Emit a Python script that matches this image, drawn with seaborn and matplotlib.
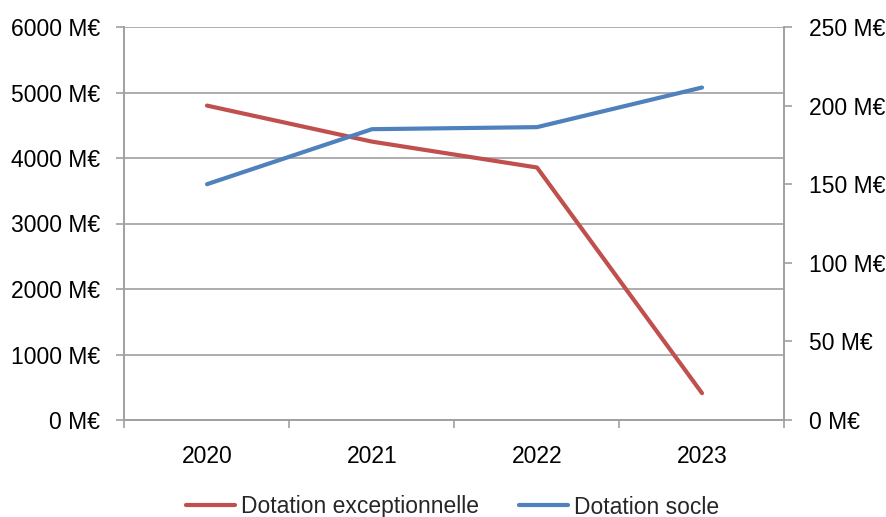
import matplotlib
matplotlib.use("Agg")
import matplotlib.pyplot as plt
import seaborn as sns
import pandas as pd
from matplotlib.ticker import FuncFormatter, MultipleLocator, FixedLocator

# Données (M€)
annees = ["2020", "2021", "2022", "2023"]
dotation_exceptionnelle = [4800, 4250, 3855, 410]
dotation_socle = [150, 185, 186.3, 211.5]

sns.set_theme(style="white")
plt.rcParams["font.family"] = ["Liberation Sans", "DejaVu Sans"]

ROUGE = "#C0504D"
BLEU = "#4F81BD"
GRIS = "#A0A0A0"
FS = 16.5
TICK = 5.8

df = pd.DataFrame({
    "annee": annees,
    "exc": dotation_exceptionnelle,
    "socle": dotation_socle,
})

fig = plt.figure(figsize=(8.87, 5.17), dpi=100)
ax = fig.add_axes([124.5 / 887, 97 / 517, (784.5 - 124.5) / 887, (420 - 27) / 517])
ax2 = ax.twinx()

sns.lineplot(data=df, x="annee", y="exc", ax=ax, color=ROUGE, linewidth=3.0,
             label="Dotation exceptionnelle", legend=False)
sns.lineplot(data=df, x="annee", y="socle", ax=ax2, color=BLEU, linewidth=3.0,
             label="Dotation socle", legend=False)

fmt = FuncFormatter(lambda v, p: f"{int(v)} M€")

ax.set_xlim(-0.5, 3.5)
ax.set_ylim(0, 6000)
ax.yaxis.set_major_locator(MultipleLocator(1000))
ax.yaxis.set_major_formatter(fmt)
ax2.set_ylim(0, 250)
ax2.yaxis.set_major_locator(MultipleLocator(50))
ax2.yaxis.set_major_formatter(fmt)

ax.set_xlabel("")
ax.set_ylabel("")
ax2.set_ylabel("")

ax.grid(axis="y", color=GRIS, linewidth=1.2)
ax.set_axisbelow(True)

# Category axis: labels centered, tick marks on boundaries
ax.xaxis.set_major_locator(FixedLocator(range(len(annees))))
ax.set_xticklabels(annees)
ax.xaxis.set_minor_locator(FixedLocator([i - 0.5 for i in range(len(annees) + 1)]))
ax.tick_params(axis="x", which="major", length=0, pad=18, labelsize=FS, colors="black")
ax.tick_params(axis="x", which="minor", length=TICK, width=1.2, color=GRIS, bottom=True)
ax.tick_params(axis="y", length=TICK, width=1.2, color=GRIS, left=True, labelsize=FS,
               pad=12, labelcolor="black")
ax2.tick_params(axis="y", length=TICK, width=1.2, color=GRIS, right=True, labelsize=FS,
                pad=11.5, labelcolor="black")

for a in (ax, ax2):
    for side, sp in a.spines.items():
        sp.set_color(GRIS)
        sp.set_linewidth(1.2)
    a.spines["top"].set_visible(False)

h1, l1 = ax.get_legend_handles_labels()
h2, l2 = ax2.get_legend_handles_labels()
fig.legend(h1 + h2, l1 + l2, loc="center", bbox_to_anchor=(452.5 / 887, 1 - 507 / 517),
           ncol=2, frameon=False, fontsize=FS, handlelength=2.15, handletextpad=0.26,
           columnspacing=1.75, borderpad=0, borderaxespad=0)

fig.savefig("out.png", dpi=100)
